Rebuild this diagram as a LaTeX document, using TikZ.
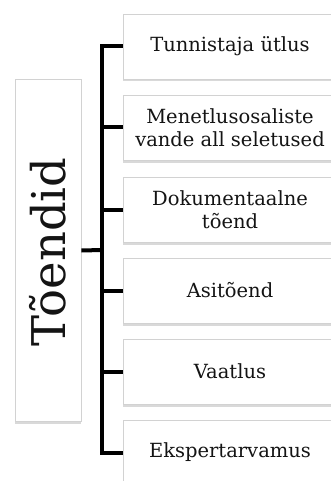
\documentclass[tikz,border=0pt]{standalone}
\usepackage{fontspec}
\setmainfont{DejaVu Serif}
\usetikzlibrary{shadows}
\begin{document}
\begin{tikzpicture}[x=1pt,y=1pt,
  boxstyle/.style={draw=gray!35, line width=0.6pt, fill=white, rectangle,
    minimum width=214pt, minimum height=65pt, align=center, inner sep=0pt,
    font=\fontsize{19.5}{23}\selectfont, text=black!92,
    drop shadow={shadow xshift=0pt, shadow yshift=-2.5pt, opacity=0.3, fill=gray}},
  rootstyle/.style={draw=gray!35, line width=0.6pt, fill=white, rectangle,
    minimum width=66pt, minimum height=342pt,
    drop shadow={shadow xshift=0pt, shadow yshift=-2.5pt, opacity=0.3, fill=gray}},
  conn/.style={line width=4pt, black, line join=miter}]
\useasboundingbox (0,0) rectangle (331,-481);
\clip (0,0) rectangle (331,-481);
\node[rootstyle] (root) at (48,-250.5) {};
\node[rotate=90, font=\fontsize{46.5}{50}\selectfont, text=black!92] (roottext) at (48,-252) {Tõendid};
\node[boxstyle] (b1) at (230,-46.5) {Tunnistaja ütlus};
\node[boxstyle] (b2) at (230,-127.5) {Menetlusosaliste\\vande all seletused};
\node[boxstyle] (b3) at (230,-209.5) {Dokumentaalne\\tõend};
\node[boxstyle] (b4) at (230,-290.5) {Asitõend};
\node[boxstyle] (b5) at (230,-371.5) {Vaatlus};
\node[boxstyle] (b6) at (230,-452.5) {Ekspertarvamus};
\coordinate (j) at (102,-250);
\draw[conn] (root.east) -- (j);
\draw[conn] (b1.west) -- (b1.west -| j) -- (b6.west -| j) -- (b6.west);
\foreach \b in {b2,b3,b4,b5} \draw[conn] (\b.west -| j) -- (\b.west);
\end{tikzpicture}
\end{document}
